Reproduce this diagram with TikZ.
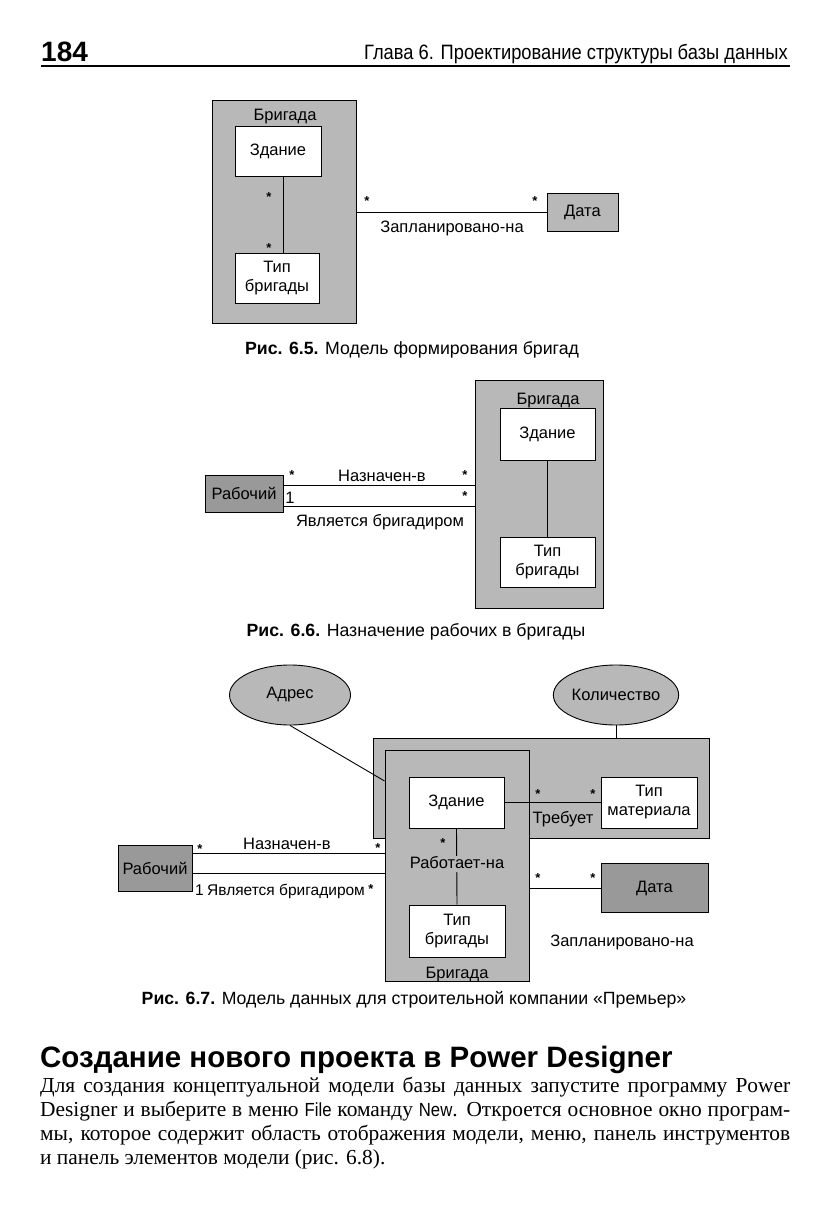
\documentclass[tikz,border=0pt]{standalone}
\usepackage{fontspec}
\setmainfont{Liberation Serif}
\newfontfamily\dsans{Liberation Sans}
\newfontfamily\hsans[FakeStretch=0.88]{Liberation Sans}
\usetikzlibrary{calc,shapes.geometric}
\definecolor{gfill}{gray}{0.72}
\definecolor{gdark}{gray}{0.60}
\begin{document}
\begin{tikzpicture}[x=1pt,y=-1pt,
  dfont/.style={font=\dsans\fontsize{16.5}{19}\selectfont},
  grp/.style={draw, fill=gfill, line width=0.9pt, inner sep=0pt},
  ent/.style={draw, fill=white, line width=0.9pt, inner sep=0pt, dfont, align=center},
  gent/.style={draw, fill=gfill, line width=0.9pt, inner sep=0pt, dfont, align=center},
  dent/.style={draw, fill=gdark, line width=0.9pt, inner sep=0pt, dfont, align=center},
  lab/.style={dfont, inner sep=0pt, anchor=base},
  glab/.style={dfont, inner sep=1pt, fill=gfill, text height=11.5pt, text depth=3pt},
  star/.style={font=\dsans\bfseries\fontsize{13}{13}\selectfont, inner sep=0pt, anchor=base},
  capt/.style={font=\dsans\fontsize{17.7}{20}\selectfont, inner sep=0pt, anchor=base},
  conn/.style={line width=0.9pt}
]
\useasboundingbox[fill=white] (0,0) rectangle (829,1222);

% ---------- header ----------
\node[font=\dsans\bfseries\fontsize{28}{30}\selectfont, inner sep=0pt, anchor=base west] (pnum) at (41,62) {184};
\node[font=\hsans\fontsize{20.8}{22}\selectfont, inner sep=0pt, anchor=base east] (chap) at (788,60) {Глава 6. Проектирование структуры базы данных};
\draw[line width=1.6pt] (41,66) -- (790,66);

% ---------- Fig 6.5 ----------
\node[grp, minimum width=144pt, minimum height=223pt] (brig1) at (284,211.5) {};
\node[lab] (brig1l) at (285,121) {Бригада};
\node[ent, minimum width=86pt, minimum height=50pt] (zd1) at (278,151) {Здание};
\node[ent, minimum width=84pt, minimum height=50pt] (tb1) at (277,278) {Тип\\бригады};
\coordinate (c1x) at (283,0);
\draw[conn] (zd1.south -| c1x) -- (tb1.north -| c1x);
\node[star] (s1a) at (269,201.5) {*};
\node[star] (s1b) at (269,253) {*};
\node[gent, minimum width=71pt, minimum height=38pt] (data1) at (582.5,212) {Дата};
\draw[conn] (brig1.east |- data1.west) -- (data1.west);
\node[star] (s1c) at (367,205.5) {*};
\node[star] (s1d) at (535,205.5) {*};
\node[lab] (pl1) at (452,233) {Запланировано-на};
\node[capt] (cap1) at (412,354) {\textbf{Рис. 6.5.} Модель формирования бригад};

% ---------- Fig 6.6 ----------
\node[grp, minimum width=128pt, minimum height=228pt] (brig2) at (539,494) {};
\node[lab] (brig2l) at (548,404) {Бригада};
\node[ent, minimum width=95pt, minimum height=52pt] (zd2) at (547.5,434) {Здание};
\node[ent, minimum width=95pt, minimum height=50pt] (tb2) at (547.5,562) {Тип\\бригады};
\draw[conn] (zd2.south) -- (tb2.north);
\node[dent, minimum width=78pt, minimum height=37pt] (rab2) at (244,493.5) {Рабочий};
\draw[conn] ([yshift=8.5pt]rab2.east) -- ([yshift=8.5pt]rab2.east -| brig2.west);
\draw[conn] ([yshift=-12.5pt]rab2.east) -- ([yshift=-12.5pt]rab2.east -| brig2.west);
\node[star] (s2a) at (292,479.5) {*};
\node[star] (s2b) at (465,479.5) {*};
\node[star] (s2c) at (465,500.5) {*};
\node[lab] (one2) at (290,503) {1};
\node[lab] (nz2) at (382,481) {Назначен-в};
\node[lab] (yb2) at (380,526) {Является бригадиром};
\node[capt] (cap2) at (416,636) {\textbf{Рис. 6.6.} Назначение рабочих в бригады};

% ---------- Fig 6.7 ----------
\node[gent, ellipse, minimum width=121pt, minimum height=60pt] (adr) at (290,695) {Адрес};
\node[gent, ellipse, minimum width=122pt, minimum height=60pt] (kol) at (616,695) {Количество};
\node[grp, minimum width=336pt, minimum height=100pt] (mat) at (541,788) {};
\node[grp, minimum width=144pt, minimum height=231pt] (brig3) at (457,865.5) {};
\draw[conn] (kol.south) -- (kol.south |- mat.north);
\coordinate (adrend) at (0,781);
\draw[conn] (adr.south) -- (brig3.west |- adrend);
\node[ent, minimum width=95pt, minimum height=51pt] (zd3) at (456.5,802.5) {Здание};
\node[ent, minimum width=96pt, minimum height=51pt] (tm3) at (649,802.5) {Тип\\материала};
\node[ent, minimum width=96pt, minimum height=52pt] (tb3) at (457,931) {Тип\\бригады};
\draw[conn] (zd3.east) -- (tm3.west);
\node[star] (s3a) at (538,798.5) {*};
\node[star] (s3b) at (593,798.5) {*};
\node[glab] (treb) at (563,819) {Требует};
\draw[conn] (zd3.south) -- (tb3.north);
\node[star] (s3c) at (443,847.5) {*};
\node[glab] (rab) at (457,864) {Работает-на};
\node[lab] (brig3l) at (457,978) {Бригада};
\node[dent, minimum width=74pt, minimum height=46pt] (rab3) at (155,868) {Рабочий};
\draw[conn] ([yshift=15pt]rab3.east) -- ([yshift=15pt]rab3.east -| brig3.west);
\draw[conn] ([yshift=-5pt]rab3.east) -- ([yshift=-5pt]rab3.east -| brig3.west);
\node[star] (s3d) at (200,853.5) {*};
\node[star] (s3e) at (378,852.5) {*};
\node[lab] (nz3) at (287,849) {Назначен-в};
\node[lab, anchor=base west, font=\dsans\fontsize{15.5}{18}\selectfont] (yb3) at (207,895) {Является бригадиром};
\node[lab, anchor=base east, font=\dsans\fontsize{15.5}{18}\selectfont] (one3) at ([xshift=-3pt]yb3.base west) {1};
\node[star, anchor=base west] (s3f) at ($(yb3.base east)+(3,-1.5)$) {*};
\node[dent, minimum width=107pt, minimum height=49pt] (data3) at (654.5,888) {Дата};
\draw[conn] (brig3.east |- data3.west) -- (data3.west);
\node[star] (s3g) at (538,882.5) {*};
\node[star] (s3h) at (593,882.5) {*};
\node[lab] (pl3) at (622,946) {Запланировано-на};
\node[capt] (cap3) at (414,1004) {\textbf{Рис. 6.7.} Модель данных для строительной компании «Премьер»};

% ---------- section text ----------
\node[font=\dsans\bfseries\fontsize{29.5}{31}\selectfont, inner sep=0pt, anchor=base west] (head) at (40,1067) {Создание нового проекта в Power Designer};
\begin{scope}[every node/.style={font=\fontsize{21.4}{24}\selectfont, inner sep=0pt, anchor=base west}]
\node (b1) at (40,1092) {\makebox[750pt][s]{Для создания концептуальной модели базы данных запустите программу Power}};
\node (b2) at (40,1116) {\makebox[750pt][s]{Designer и выберите в меню {\hsans\fontsize{19}{24}\selectfont File} команду {\hsans\fontsize{19}{24}\selectfont New}. Откроется основное окно програм-}};
\node (b3) at (40,1140) {\makebox[750pt][s]{мы, которое содержит область отображения модели, меню, панель инструментов}};
\node (b4) at (40,1164) {и панель элементов модели (рис. 6.8).};
\end{scope}
\end{tikzpicture}
\end{document}
